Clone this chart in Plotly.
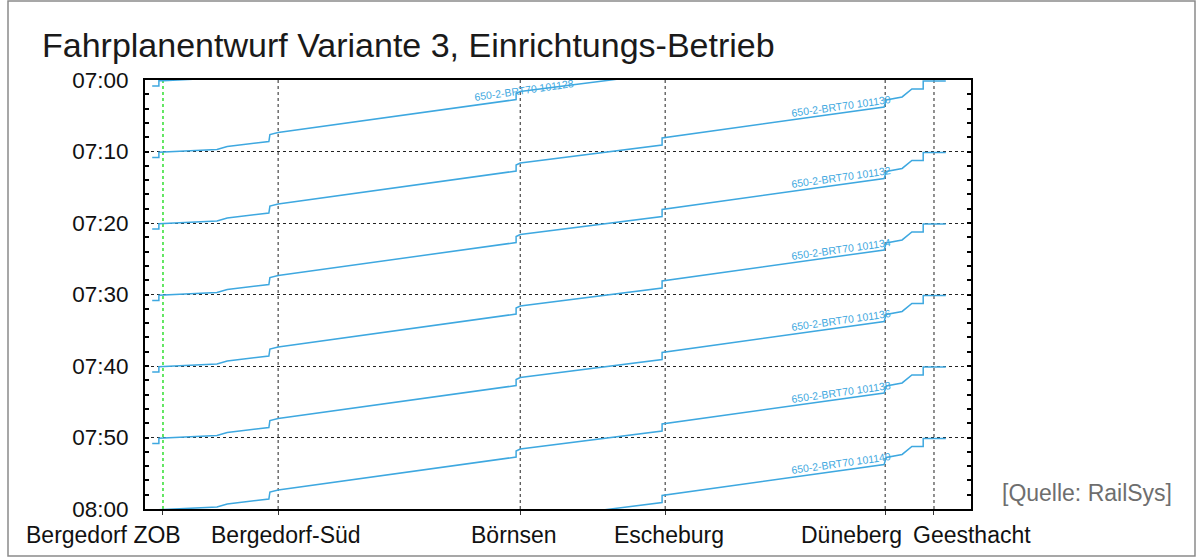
import plotly.graph_objects as go

# ---------------- data ----------------
stations = ["Bergedorf ZOB", "Bergedorf-Süd", "Börnsen", "Escheburg", "Düneberg", "Geesthacht"]
station_km = [0.0, 2.24, 6.95, 9.77, 14.05, 15.0]

# run profile of one trip Geesthacht -> Bergedorf ZOB: position (km) and minutes after departure
profile_km = [15.23, 14.79, 14.79, 14.57, 14.38, 14.18, 14.07, 14.03, 9.77, 9.71, 9.71,
              6.95, 6.87, 6.87, 2.24, 2.08, 2.06, 1.25, 1.05, 0.0, -0.08, -0.08, -0.21]
profile_min = [0.13, 0.13, 1.25, 1.25, 2.37, 2.65, 2.79, 3.77, 7.97, 8.11, 9.09,
               11.61, 11.89, 12.73, 17.35, 17.63, 18.61, 19.31, 19.73, 20.1, 20.1, 20.85, 20.85]

departures = ["06:40", "06:50", "07:00", "07:10", "07:20", "07:30", "07:40", "07:50"]
train_names = ["650-2-BRT70 101126", "650-2-BRT70 101128", "650-2-BRT70 101130",
               "650-2-BRT70 101132", "650-2-BRT70 101134", "650-2-BRT70 101136",
               "650-2-BRT70 101138", "650-2-BRT70 101140"]

tick_vals = [420, 430, 440, 450, 460, 470, 480]
tick_text = ["07:00", "07:10", "07:20", "07:30", "07:40", "07:50", "08:00"]

# ---------------- layout helpers (positions / styles) ----------------
label_km = [None, 7.02, 13.19, 13.19, 13.19, 13.19, 13.19, 13.19]
label_offset = [None, 11.44, 3.62, 3.62, 3.62, 3.62, 3.62, 3.62]
station_label_px = [103, 286, 514, 669, 851, 972]   # label centres (pixels)

LINE_BLUE = "#3ea8e0"
FONT = "Arial, Liberation Sans, sans-serif"

PL, PR, PT, PB = 145, 971, 80, 509   # plot area in pixels
W, H = 1203, 559


def px_x(px):
    return (px - PL) / (PR - PL)


def px_y(py):
    return (PB - py) / (PB - PT)


def to_min(hhmm):
    h, m = hhmm.split(":")
    return int(h) * 60 + int(m)


fig = go.Figure()

for dep, name in zip(departures, train_names):
    t0 = to_min(dep)
    fig.add_trace(go.Scatter(
        x=profile_km,
        y=[t0 + m for m in profile_min],
        mode="lines",
        line=dict(color=LINE_BLUE, width=1.5),
        name=name,
        hoverinfo="name",
        showlegend=False,
    ))

annotations = []
for dep, name, lk, lo in zip(departures, train_names, label_km, label_offset):
    if lk is None:
        continue
    annotations.append(dict(
        x=lk, y=to_min(dep) + lo, xref="x", yref="y",
        text=name, showarrow=False, textangle=-8,
        font=dict(family=FONT, size=10.5, color=LINE_BLUE),
        xanchor="center", yanchor="middle",
    ))

for st, lp in zip(stations, station_label_px):
    annotations.append(dict(
        x=px_x(lp), y=px_y(535), xref="paper", yref="paper", text=st, showarrow=False,
        font=dict(family=FONT, size=23, color="#111111"),
        xanchor="center", yanchor="middle",
    ))

annotations.append(dict(
    x=px_x(40), y=px_y(45), xref="paper", yref="paper",
    text="Fahrplanentwurf Variante 3, Einrichtungs-Betrieb", showarrow=False,
    font=dict(family=FONT, size=34, color="#1a1a1a"),
    xanchor="left", yanchor="middle",
))
annotations.append(dict(
    x=px_x(1087), y=px_y(493), xref="paper", yref="paper",
    text="[Quelle: RailSys]", showarrow=False,
    font=dict(family=FONT, size=23, color="#6e6e6e"),
    xanchor="center", yanchor="middle",
))

shapes = []
for st, km in zip(stations, station_km):
    is_zob = st == "Bergedorf ZOB"
    shapes.append(dict(
        type="line", xref="x", yref="paper", x0=km, x1=km, y0=0, y1=1,
        line=dict(color="#22dd22" if is_zob else "#222222", width=1.4 if is_zob else 1, dash="dot"),
        layer="below",
    ))
# outer frame
shapes.append(dict(
    type="rect", xref="paper", yref="paper",
    x0=px_x(8), x1=px_x(1195), y0=px_y(556), y1=px_y(1),
    line=dict(color="#8a8a8a", width=1.5), layer="below",
))

fig.update_layout(
    width=W, height=H,
    margin=dict(l=PL, r=W - PR, t=PT, b=H - PB, autoexpand=False),
    paper_bgcolor="white", plot_bgcolor="white",
    annotations=annotations, shapes=shapes,
    showlegend=False,
)

fig.update_xaxes(
    range=[-0.35, 15.72],
    showgrid=False, zeroline=False,
    showline=True, linecolor="black", linewidth=2, mirror=True,
    tickvals=station_km, ticks="outside", ticklen=4, tickcolor="#333333",
    showticklabels=False,
)

fig.update_yaxes(
    range=[480, 420],
    tickvals=tick_vals, ticktext=tick_text,
    tickfont=dict(family=FONT, size=22.5, color="#111111"),
    ticks="inside", ticklen=4, tickcolor="black", tickwidth=1.5,
    ticklabelstandoff=10,
    minor=dict(dtick=2, ticks="inside", ticklen=4, tickcolor="black", tickwidth=1.5, showgrid=False),
    showgrid=True, gridcolor="#222222", griddash="dot", gridwidth=1,
    zeroline=False, automargin=False,
    showline=True, linecolor="black", linewidth=2, mirror="ticks",
)

fig.write_html("out.html", config={"displayModeBar": False},
               post_script="document.body.style.margin='0px';")
